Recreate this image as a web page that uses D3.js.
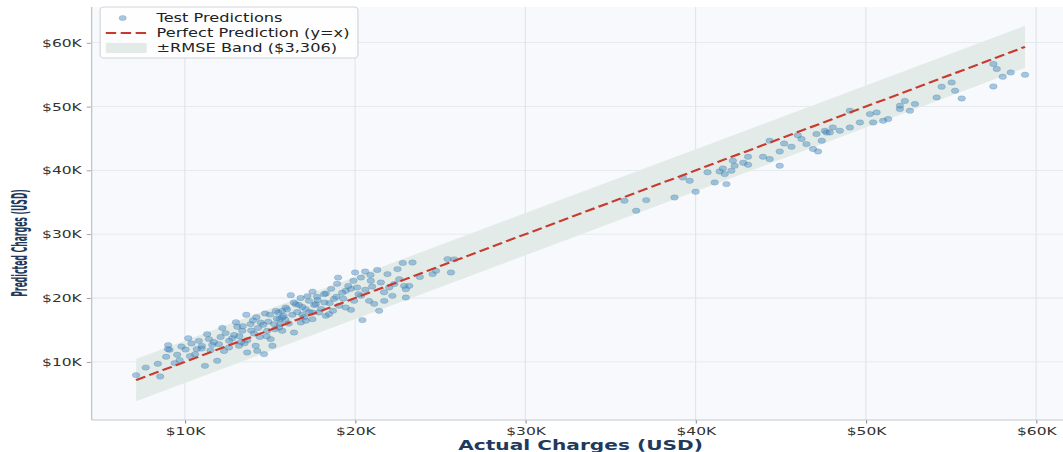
<!DOCTYPE html>
<html>
<head>
<meta charset="utf-8">
<script src="https://cdn.jsdelivr.net/npm/d3@7"></script>
<style>
  html, body { margin: 0; padding: 0; background: #ffffff; }
  svg { display: block; font-family: "DejaVu Sans", sans-serif; }
</style>
</head>
<body>
<div id="chart"></div>
<script>
// Test-set insurance charges: actual vs. model prediction (USD)
const actualCharges = [
  7135, 8410, 8550, 9020, 9100, 9550, 9690, 10040, 10390, 10820,
  10980, 11180, 11310, 11410, 11610, 11900, 12000, 12390, 12590, 12780,
  13080, 13180, 13370, 13610, 13660, 13660, 13860, 14060, 14160, 14250,
  14450, 14650, 14710, 14840, 15040, 15140, 15240, 15490, 15570, 15720,
  15920, 16220, 16310, 16410, 16510, 16810, 17100, 17290, 17490, 17690,
  12100, 12900, 13400, 13900, 14300, 14600, 14900, 15300, 15600, 15900,
  16100, 14400, 13200, 15800, 16600, 12600, 11700, 14000, 15400, 16900,
  11000, 9800, 10600, 12300, 13500,
  15710, 16900, 17300, 17600, 18000, 18200,
  18280, 18940, 19450, 19750, 20120, 20340, 20590, 20430, 20920, 21120,
  21410, 21510, 21900, 22000, 22190, 22490, 22590, 22880, 22980, 23180,
  22980, 23370, 24550, 24750, 25430, 25630, 25820,
  15340, 15710, 15530, 17100, 17490, 17880, 18280, 18470, 19450, 20820,
  18180, 18760, 19060, 17760, 19940, 19240, 18590, 20350, 21710, 19760,
  17500, 16800, 19000, 20000, 21300, 22800,
  7700, 8900, 9400, 10300, 10700,
  35820, 36510, 37100, 38760, 39250, 39650, 40000, 41120, 41410, 41710,
  41810, 42100, 42190, 42290, 43080, 43080, 43960, 44350, 44940, 44940,
  44350, 45630, 46220, 46510, 46900, 47190, 47100, 47690,
  40700, 41600, 45200, 46000, 42800,
  47410, 47590, 47880, 48060, 48470, 49060, 49060, 49650, 50240, 50430,
  50630, 51020, 51310, 52000, 52000, 52290, 52590, 52880, 54160, 54450,
  55040, 55240, 55630, 57490, 57690, 57490, 58040, 58510, 59350,
  12200, 13000, 14200, 15000, 16000, 16700, 17200, 17800, 18500, 18900,
  19300, 19600, 20200, 20600, 21000, 21700, 18700, 17000, 14800, 13300,
  11500, 10200, 9000, 16400, 19900, 20900, 22300, 23800
];
const predictedCharges = [
  7920, 9690, 7700, 12620, 11880, 11100, 10270, 11930, 12870, 13290,
  12080, 9370, 14340, 13560, 12660, 10160, 12770, 14500, 12240, 13710,
  15490, 12510, 14860, 17370, 13400, 11460, 15910, 14440, 12510, 11720,
  16160, 11210, 17570, 14860, 13560, 12510, 15910, 17730, 16690, 14860,
  18510, 20450, 17370, 14590, 19040, 16160, 18260, 19560, 17730, 19040,
  13900, 14200, 15600, 14900, 15300, 15800, 16300, 15100, 15900, 16600,
  16000, 13900, 14000, 17200, 17800, 13300, 13100, 16500, 16800, 17400,
  12500, 12400, 11200, 11700, 12900,
  17990, 18600, 17800, 18900, 18300, 19300,
  20710, 22230, 21130, 21440, 21650, 23210, 24150, 16540, 22700, 19090,
  17990, 22430, 23750, 21650, 20340, 24530, 22960, 21910, 21390, 21910,
  20080, 25560, 23750, 24260, 26100, 24000, 26060,
  17990, 16940, 15380, 16430, 16690, 17730, 17210, 17480, 18510, 19560,
  20610, 19870, 18780, 20190, 19560, 20820, 21440, 20340, 19560, 18150,
  21000, 20000, 23200, 24000, 24400, 25500,
  9100, 10800, 9800, 10900, 12000,
  35240, 33670, 35340, 35750, 38890, 38370, 36650, 38100, 39830, 39420,
  37850, 39940, 41500, 40720, 42130, 40880, 42130, 41770, 42960, 40720,
  44640, 43700, 44910, 44120, 43340, 42960, 45690, 45940,
  39700, 40300, 44200, 45500, 41200,
  44640, 46210, 45940, 46720, 46210, 46720, 49340, 47510, 48820, 47510,
  49080, 47770, 48040, 50130, 49610, 50880, 49340, 50390, 51430, 53100,
  53780, 52480, 51270, 56660, 55880, 53150, 54670, 55340, 54980,
  15300, 16200, 17000, 17400, 18200, 18900, 20300, 19700, 19200, 20200,
  19900, 21900, 20600, 21300, 21800, 20900, 18000, 17000, 14000, 13100,
  11800, 13700, 12000, 19300, 22700, 23600, 22200, 23300
];
const rmse = 3306;
const xTickValues = [10000, 20000, 30000, 40000, 50000, 60000];
const yTickValues = [10000, 20000, 30000, 40000, 50000, 60000];
const legendLabels = ["Test Predictions", "Perfect Prediction (y=x)", "\u00B1RMSE Band ($3,306)"];
const xAxisTitle = "Actual Charges (USD)";
const yAxisTitle = "Predicted Charges (USD)";

// The figure is laid out in a narrower coordinate space and stretched horizontally.
const W = 1063, H = 452, stretch = 1.41, innerW = W / stretch;
const plot = { left: 65, right: 758.5, top: 7, bottom: 420 };

const svg = d3.select("#chart").append("svg")
  .attr("width", W).attr("height", H)
  .attr("viewBox", `0 0 ${innerW} ${H}`)
  .attr("preserveAspectRatio", "none");

svg.append("rect").attr("width", innerW).attr("height", H).attr("fill", "#ffffff");

const points = actualCharges.map((a, i) => ({ a, p: predictedCharges[i] }));
const aMin = d3.min(actualCharges), aMax = d3.max(actualCharges);

// Matplotlib-like 5% padding around data extents
function padded(lo, hi) { const r = hi - lo; return [lo - r * 0.05, hi + r * 0.05]; }
const xDom = padded(aMin, aMax);
const yDom = padded(Math.min(aMin - rmse, d3.min(predictedCharges)), Math.max(aMax + rmse, d3.max(predictedCharges)));

const x = d3.scaleLinear().domain(xDom).range([plot.left, plot.right]);
const y = d3.scaleLinear().domain(yDom).range([plot.bottom, plot.top]);

// Axes background
svg.append("rect")
  .attr("x", plot.left).attr("y", plot.top)
  .attr("width", plot.right - plot.left).attr("height", plot.bottom - plot.top)
  .attr("fill", "#f7f9fc");

// Grid
const grid = svg.append("g").attr("stroke", "#e0e5eb").attr("stroke-width", 0.8);
grid.selectAll(".gx").data(xTickValues).join("line")
  .attr("x1", d => x(d)).attr("x2", d => x(d))
  .attr("y1", plot.top).attr("y2", plot.bottom);
grid.selectAll(".gy").data(yTickValues).join("line")
  .attr("x1", plot.left).attr("x2", plot.right)
  .attr("y1", d => y(d)).attr("y2", d => y(d));

// ±RMSE band around the identity line
const bandX = [aMin, aMax];
svg.append("path")
  .datum(bandX)
  .attr("fill", "#e2ebe7")
  .attr("d", d3.area().x(d => x(d)).y0(d => y(d - rmse)).y1(d => y(d + rmse)));

// Prediction points
svg.append("g").selectAll("circle").data(points).join("circle")
  .attr("cx", d => x(d.a)).attr("cy", d => y(d.p)).attr("r", 2.7)
  .attr("fill", "#4a8fc6").attr("fill-opacity", 0.48)
  .attr("stroke", "#2a5677").attr("stroke-opacity", 0.3).attr("stroke-width", 0.5);

// Perfect prediction line
svg.append("path")
  .datum(bandX)
  .attr("fill", "none").attr("stroke", "#c8392e").attr("stroke-width", 2)
  .attr("stroke-dasharray", "7.4,3.2")
  .attr("d", d3.line().x(d => x(d)).y(d => y(d)));

// Axes
const fmt = d => "$" + d3.format("d")(d / 1000) + "K";
const xAxis = svg.append("g").attr("transform", `translate(0,${plot.bottom})`)
  .call(d3.axisBottom(x).tickValues(xTickValues).tickFormat(fmt).tickSize(3.5).tickSizeOuter(0).tickPadding(3.5));
const yAxis = svg.append("g").attr("transform", `translate(${plot.left},0)`)
  .call(d3.axisLeft(y).tickValues(yTickValues).tickFormat(fmt).tickSize(3.5).tickSizeOuter(0).tickPadding(3.5));
[xAxis, yAxis].forEach(g => {
  g.select(".domain").remove();
  g.selectAll(".tick line").attr("stroke", "#8a8f96").attr("stroke-width", 0.8);
  g.selectAll(".tick text").attr("fill", "#333333").attr("font-size", 11)
    .attr("font-family", "DejaVu Sans, sans-serif");
});

// Spines (left and bottom only)
svg.append("line").attr("x1", plot.left).attr("x2", plot.left).attr("y1", plot.top).attr("y2", plot.bottom)
  .attr("stroke", "#c3c8cf").attr("stroke-width", 1);
svg.append("line").attr("x1", plot.left).attr("x2", plot.right).attr("y1", plot.bottom).attr("y2", plot.bottom)
  .attr("stroke", "#c3c8cf").attr("stroke-width", 1);

// Axis titles
svg.append("text")
  .attr("x", (plot.left + plot.right) / 2).attr("y", 450)
  .attr("text-anchor", "middle").attr("font-size", 14.3).attr("font-weight", "bold")
  .attr("fill", "#1f3a5c").text(xAxisTitle);
// Vertical title set in a condensed face
svg.append("text")
  .attr("transform", "translate(19,243) rotate(-90) scale(0.53,1)")
  .attr("text-anchor", "middle").attr("font-size", 14.5).attr("font-weight", "bold")
  .attr("fill", "#1f3a5c").text(yAxisTitle);

// Legend
const lg = svg.append("g").attr("transform", "translate(71,7)");
const lgBox = lg.append("rect").attr("rx", 2.5).attr("ry", 3.5)
  .attr("fill", "#ffffff").attr("fill-opacity", 0.85)
  .attr("stroke", "#d0d4d9").attr("stroke-width", 0.8);
const rowY = [11, 26, 41];
lg.append("circle").attr("cx", 16).attr("cy", rowY[0]).attr("r", 2.6)
  .attr("fill", "#4a8fc6").attr("fill-opacity", 0.48)
  .attr("stroke", "#2a5677").attr("stroke-opacity", 0.3).attr("stroke-width", 0.5);
lg.append("line").attr("x1", 4).attr("x2", 33).attr("y1", rowY[1]).attr("y2", rowY[1])
  .attr("stroke", "#c8392e").attr("stroke-width", 2).attr("stroke-dasharray", "7.4,3.2");
lg.append("rect").attr("x", 4).attr("y", rowY[2] - 5).attr("width", 29).attr("height", 10)
  .attr("fill", "#e2ebe7");
const lgText = lg.selectAll("text.lbl").data(legendLabels).join("text")
  .attr("class", "lbl")
  .attr("x", 40).attr("y", (d, i) => rowY[i]).attr("dy", "0.35em")
  .attr("font-size", 11.5).attr("fill", "#222222").text(d => d);
let maxW = 0;
lgText.each(function () { maxW = Math.max(maxW, this.getComputedTextLength()); });
lgBox.attr("x", 0).attr("y", 0).attr("width", 40 + maxW + 6).attr("height", 51);
</script>
</body>
</html>
